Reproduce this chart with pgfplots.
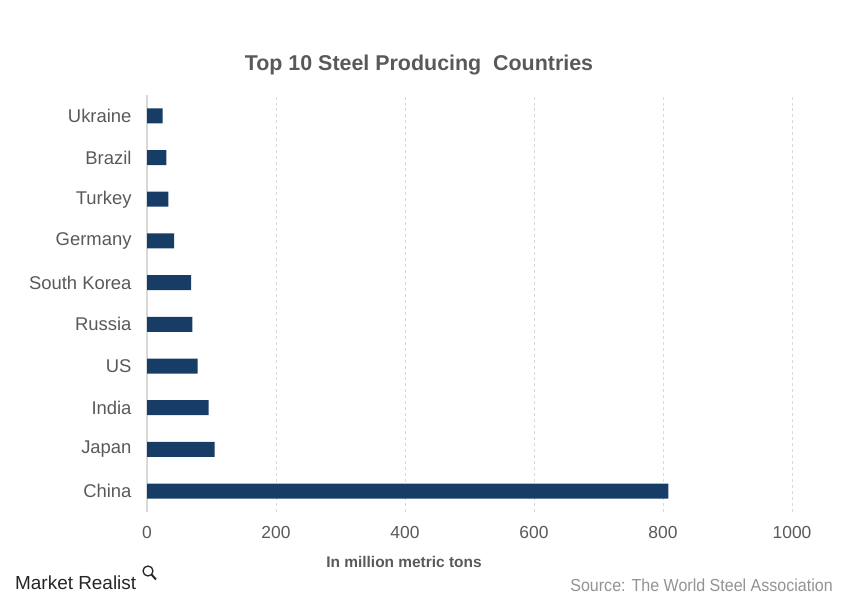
\documentclass[border=0pt]{standalone}
\usepackage{pgfplots}
\pgfplotsset{compat=1.18}
\usepackage{fontspec}
\setmainfont{Liberation Sans}
\definecolor{barblue}{HTML}{173C66}
\definecolor{txtgray}{HTML}{595959}
\definecolor{gridgray}{HTML}{D9D9D9}
\begin{document}
\begin{tikzpicture}[x=1bp,y=1bp]
\path[use as bounding box] (0,0) rectangle (841,601);
\begin{axis}[
  at={(147bp,89bp)}, anchor=south west,
  scale only axis, width=645bp, height=417bp,
  xmin=0, xmax=1000, ymin=-0.5, ymax=9.5,
  xbar, bar width=15bp,
  axis line style={draw=none},
  xtick={0,200,...,1000},
  ytick={0,...,9},
  yticklabels={China,Japan,India,US,Russia,South Korea,Germany,Turkey,Brazil,Ukraine},
  major tick length=0pt,
  xmajorgrids, grid style={dashed, gridgray, line width=0.8pt},
  extra x ticks={0}, extra x tick labels={},
  extra x tick style={grid style={solid, gridgray, line width=1.2pt}},
  /pgf/number format/assume math mode=true,
  /pgf/number format/set thousands separator={},
  xticklabel style={font=\fontsize{17.5}{20}\selectfont, text=txtgray, yshift=-11bp},
  yticklabel style={font=\fontsize{18.5}{22}\selectfont, text=txtgray, xshift=-12bp},
  clip=false,
]
\addplot[fill=barblue, draw=none] coordinates {
 (808.4,0) (104.8,1) (95.6,2) (78.5,3) (70.5,4) (68.6,5) (42.1,6) (33.2,7) (30.2,8) (24.2,9)};
\end{axis}
\node[font=\bfseries\fontsize{21.5}{25}\selectfont, text=txtgray] at (419,536) {Top 10 Steel Producing\ \ Countries};
\node[font=\bfseries\fontsize{15.5}{18}\selectfont, text=txtgray] at (404,39) {In million metric tons};
\node[anchor=east, font=\fontsize{17.5}{20}\selectfont, text=gray!85, xscale=0.92] at (836,16) {Source: The World Steel Association};
\node[anchor=base west, font=\fontsize{19}{22}\selectfont, text=black!85, inner sep=0] at (15,11) {Market Realist};
\draw[black!85, line width=1.3pt] (148,30) circle (5);
\draw[black!85, line width=2pt] (151.5,26.5) -- (156,21.5);
\end{tikzpicture}
\end{document}
